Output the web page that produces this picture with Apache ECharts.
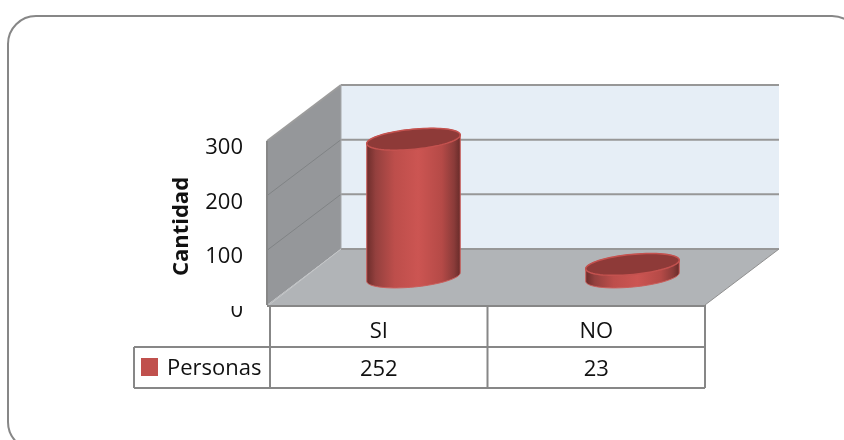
<!DOCTYPE html>
<html>
<head>
<meta charset="utf-8">
<style>html,body{margin:0;padding:0;background:#fff}#c{width:844px;height:440px}</style>
<script src="https://cdn.jsdelivr.net/npm/echarts@6/dist/echarts.min.js"></script>
</head>
<body>
<div id="c"></div>
<script>
// Survey result: how many people answered yes or no
const categories = ['SI', 'NO'];
const personas = [252, 23];
const valueTicks = [0, 100, 200, 300];
const seriesName = 'Personas';
const axisTitle = 'Cantidad';

// Oblique projection: half of the box depth, from the mid plane to each wall
const DEPTH_X = 37;
const DEPTH_Y = 28;
const FONT = '"Open Sans", sans-serif';
const LINE = '#878787';
const RED = '#C0504D';

function ellipsePoints(cx, cy, a, b, from, to, n) {
  const tilt = -5.5 * Math.PI / 180;
  const pts = [];
  for (let i = 0; i <= n; i++) {
    const t = from + (to - from) * i / n;
    const ex = a * Math.cos(t), ey = b * Math.sin(t);
    pts.push([cx + ex * Math.cos(tilt) - ey * Math.sin(tilt),
              cy + ex * Math.sin(tilt) + ey * Math.cos(tilt)]);
  }
  return pts;
}

// The box: back wall, side wall, floor and the gridlines on both walls
function renderWalls(params, api) {
  const cs = params.coordSys;
  const L = cs.x, R = cs.x + cs.width;
  const T = api.coord([0, valueTicks[valueTicks.length - 1]])[1];
  const B = api.coord([0, 0])[1];
  const bl = L + DEPTH_X, br = R + DEPTH_X, fl = L - DEPTH_X, fr = R - DEPTH_X;
  const up = -DEPTH_Y, dn = DEPTH_Y;
  const kids = [
    { type: 'polygon', shape: { points: [[bl, T + up], [br, T + up], [br, B + up], [bl, B + up]] }, style: { fill: '#E6EEF6' } },
    { type: 'polygon', shape: { points: [[fl, T + dn], [bl, T + up], [bl, B + up], [fl, B + dn]] }, style: { fill: '#95979A' } },
    { type: 'polygon', shape: { points: [[fl, B + dn], [bl, B + up], [br, B + up], [fr, B + dn]] }, style: { fill: '#B1B4B7' } }
  ];
  valueTicks.forEach(function (v) {
    const y = api.coord([0, v])[1];
    kids.push({ type: 'line', shape: { x1: bl, y1: y + up, x2: br, y2: y + up }, style: { stroke: '#979797', lineWidth: 2 } });
    if (v > 0) {
      kids.push({ type: 'line', shape: { x1: fl, y1: y + dn, x2: bl, y2: y + up }, style: { stroke: v === 300 ? '#9c9c9c' : '#808385', lineWidth: v === 300 ? 2 : 1 } });
    }
  });
  kids.push({ type: 'line', shape: { x1: bl, y1: T + up, x2: bl, y2: B + up }, style: { stroke: '#A5A7A9', lineWidth: 1 } });
  kids.push({ type: 'line', shape: { x1: fl, y1: T + dn, x2: fl, y2: B + dn }, style: { stroke: LINE, lineWidth: 2 } });
  kids.push({ type: 'line', shape: { x1: fl + 2, y1: B + dn, x2: bl, y2: B + up }, style: { stroke: '#C4C6C8', lineWidth: 1 } });
  kids.push({ type: 'line', shape: { x1: fr, y1: B + dn, x2: br, y2: B + up }, style: { stroke: '#909090', lineWidth: 1 } });
  return { type: 'group', children: kids };
}

// One cylinder standing on the mid plane of the floor
function renderCylinder(params, api) {
  const base = api.coord([api.value(0), 0]);
  const top = api.coord([api.value(0), api.value(1)]);
  const a = api.size([1, 0])[0] * 0.2145, b = 10;
  const front = ellipsePoints(base[0], base[1], a, b, 0, Math.PI, 40);
  const back = ellipsePoints(top[0], top[1], a, b, Math.PI, 2 * Math.PI, 40);
  const rim = ellipsePoints(top[0], top[1], a, b, 0, 2 * Math.PI, 80);
  return {
    type: 'group',
    children: [
      {
        type: 'polygon',
        shape: { points: front.concat(back) },
        style: {
          fill: {
            type: 'linear', x: 0, y: 0, x2: 1, y2: 0,
            colorStops: [
              { offset: 0, color: '#6A2C2A' },
              { offset: 0.1, color: '#94403E' },
              { offset: 0.3, color: '#BD4E4B' },
              { offset: 0.55, color: '#CC5552' },
              { offset: 0.8, color: '#B54A47' },
              { offset: 0.93, color: '#8A3B39' },
              { offset: 1, color: '#652A28' }
            ]
          },
          stroke: '#CB5E5B', lineWidth: 1
        }
      },
      {
        type: 'polygon',
        shape: { points: rim },
        style: { fill: '#8E3A38', stroke: '#C4524F', lineWidth: 1.5 }
      }
    ]
  };
}

// Data table under the box: value row, cell borders and the white mask at its top edge
function renderTable(params, api) {
  const cs = params.coordSys;
  const L = cs.x, R = cs.x + cs.width, top = cs.y + cs.height + 1;
  const row = 41, legendW = 136;
  const mid = (L + R) / 2;
  const kids = [
    { type: 'rect', shape: { x: L - 46, y: top - 16, width: 42, height: 16 }, style: { fill: '#fff' } }
  ];
  const seg = function (x1, y1, x2, y2) {
    kids.push({ type: 'line', shape: { x1: x1, y1: y1, x2: x2, y2: y2 }, style: { stroke: LINE, lineWidth: 2 } });
  };
  seg(L - 3, top, R, top);
  seg(L - legendW, top + row, R, top + row);
  seg(L - legendW, top + 2 * row, R, top + 2 * row);
  seg(L, top, L, top + 2 * row);
  seg(mid, top, mid, top + 2 * row);
  seg(R, top - 1, R, top + 2 * row);
  seg(L - legendW, top + row, L - legendW, top + 2 * row);
  personas.forEach(function (v, i) {
    kids.push({
      type: 'text',
      style: {
        x: api.coord([i, 0])[0], y: top + 1.5 * row + 2,
        text: String(v), fill: '#111', font: '22px ' + FONT,
        textAlign: 'center', textVerticalAlign: 'middle'
      }
    });
  });
  return { type: 'group', children: kids };
}

const chart = echarts.init(document.getElementById('c'), null, { renderer: 'canvas' });
chart.setOption({
  animation: false,
  backgroundColor: '#fff',
  textStyle: { fontFamily: FONT },
  graphic: [{
    type: 'rect', z: -1,
    shape: { x: 8, y: 16, width: 852, height: 434, r: 28 },
    style: { fill: '#fff', stroke: LINE, lineWidth: 2 }
  }],
  legend: {
    left: 141, top: 358,
    orient: 'horizontal', padding: 0,
    itemWidth: 17, itemHeight: 18,
    data: [{ name: seriesName, icon: 'rect' }],
    formatter: '{label|{name}}',
    textStyle: {
      rich: {
        label: { fontFamily: FONT, fontSize: 22, color: '#111', padding: [4, 0, 0, 4] }
      }
    }
  },
  grid: [
    { left: 304, width: 438, top: 113, height: 164 },
    { left: 270, width: 435, top: 141, height: 164 },
    { left: 270, width: 435, top: 148, height: 163 }
  ],
  xAxis: [
    { gridIndex: 0, type: 'category', data: categories, show: false },
    {
      gridIndex: 1, type: 'category', data: categories,
      axisLine: { show: false }, axisTick: { show: false },
      axisLabel: { margin: 16, fontFamily: FONT, fontSize: 22, color: '#111' }
    },
    { gridIndex: 2, type: 'category', data: categories, show: false }
  ],
  yAxis: [
    { gridIndex: 0, type: 'value', min: 0, max: 300, interval: 100, show: false },
    { gridIndex: 1, type: 'value', min: 0, max: 300, interval: 100, show: false },
    {
      gridIndex: 2, type: 'value', min: 0, max: 300, interval: 100,
      axisLine: { show: false }, axisTick: { show: false }, splitLine: { show: false },
      axisLabel: { margin: 27, fontFamily: FONT, fontSize: 22, color: '#111' },
      name: axisTitle, nameLocation: 'middle', nameRotate: 90, nameGap: 77,
      nameTextStyle: { fontFamily: FONT, fontSize: 22, fontWeight: 'bold', color: '#111', padding: [0, 0, 0, 6] }
    }
  ],
  series: [
    {
      type: 'custom', name: 'Caja', xAxisIndex: 0, yAxisIndex: 0, z: 1,
      silent: true, clip: false, renderItem: renderWalls, data: [[0, 0]]
    },
    {
      type: 'custom', name: seriesName, xAxisIndex: 0, yAxisIndex: 0, z: 2,
      itemStyle: { color: RED }, clip: false, renderItem: renderCylinder,
      encode: { x: 0, y: 1 },
      data: personas.map(function (v, i) { return [i, v]; })
    },
    {
      type: 'custom', name: 'Tabla', xAxisIndex: 1, yAxisIndex: 1, z: 20,
      silent: true, clip: false, renderItem: renderTable, data: [[0, 0]]
    }
  ]
});
</script>
</body>
</html>
